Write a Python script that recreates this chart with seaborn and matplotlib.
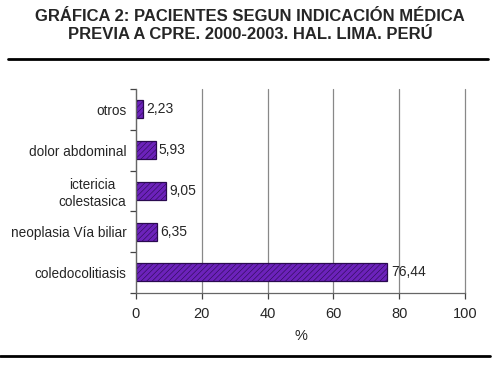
import numpy as np
import pandas as pd
import seaborn as sns
import matplotlib.pyplot as plt
from matplotlib.lines import Line2D

# datos
categorias = ['otros', 'dolor abdominal', 'ictericia\ncolestasica', 'neoplasia Vía biliar', 'coledocolitiasis']
porcentajes = [2.23, 5.93, 9.05, 6.35, 76.44]
etiquetas = ['2,23', '5,93', '9,05', '6,35', '76,44']
xticks = [0, 20, 40, 60, 80, 100]

df = pd.DataFrame({'indicacion': categorias, 'pct': porcentajes})

sns.set_style('white')
plt.rcParams['font.family'] = ['Liberation Sans', 'DejaVu Sans']
plt.rcParams['hatch.linewidth'] = 0.4

fig = plt.figure(figsize=(5, 3.65), dpi=100)
ax = fig.add_axes([0.272, 0.198, 0.658, 0.558])

sns.barplot(data=df, y='indicacion', x='pct', orient='h', color='#6c22bb',
            saturation=1, width=0.44, edgecolor='#2a0a50', linewidth=0.9, ax=ax)
for p in ax.patches:
    p.set_hatch('//////')

for i, (v, t) in enumerate(zip(porcentajes, etiquetas)):
    ax.text(v + 1.0, i, t, va='center', ha='left', fontsize=10)

ax.set_xlim(0, 100)
ax.set_ylim(4.5, -0.5)
ax.set_xticks(xticks)
ax.set_xticklabels([str(x) for x in xticks], fontsize=10.5)
ax.set_xlabel('%', fontsize=10.5, labelpad=6)
ax.set_ylabel('')
ax.tick_params(axis='y', which='major', length=0, labelsize=9.8, pad=7)
ax.set_yticks(np.arange(-0.5, 5, 1), minor=True)
ax.tick_params(axis='y', which='minor', left=True, length=4, width=0.9, color='#444444', direction='out')
ax.tick_params(axis='x', bottom=True, length=4, width=0.9, color='#444444', direction='out', pad=6)
for lab in ax.get_yticklabels():
    lab.set_ha('right')
    lab.set_multialignment('center')

# lineas verticales de la rejilla (la de 100 sin recortar)
ax.xaxis.grid(True, color='#888888', linewidth=0.9)
for gl in ax.get_xgridlines():
    gl.set_clip_on(False)
ax.set_axisbelow(True)
for s in ['top', 'right']:
    ax.spines[s].set_visible(False)
for s in ['left', 'bottom']:
    ax.spines[s].set_color('#666666')
    ax.spines[s].set_linewidth(0.9)

fig.text(0.5, 0.975, 'GRÁFICA 2: PACIENTES SEGUN INDICACIÓN MÉDICA\nPREVIA A CPRE. 2000-2003. HAL. LIMA. PERÚ',
         ha='center', va='top', fontsize=12, fontweight='bold', linespacing=1.2)

fig.add_artist(Line2D([0.016, 0.976], [0.838, 0.838], color='black', linewidth=2))
fig.add_artist(Line2D([0.0, 0.98], [0.025, 0.025], color='black', linewidth=2))

fig.savefig('out.png', dpi=100, facecolor='white')
